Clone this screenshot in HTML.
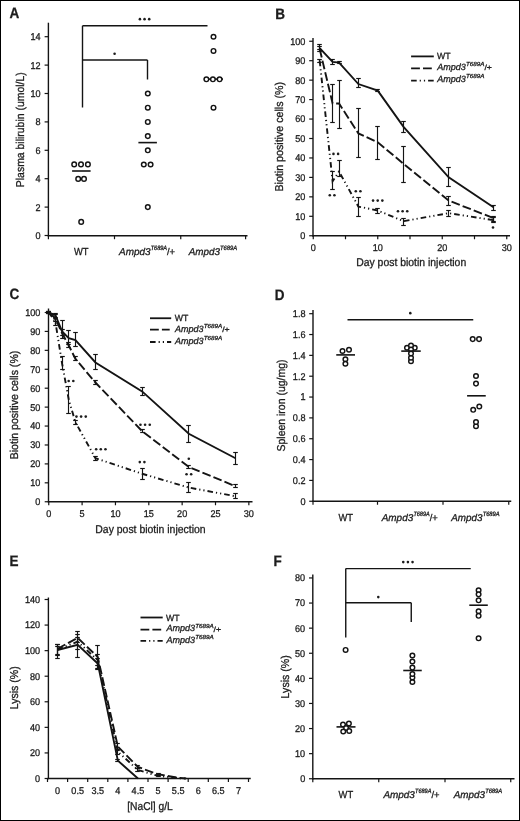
<!DOCTYPE html>
<html><head><meta charset="utf-8"><style>
html,body{margin:0;padding:0;background:#fff;}
svg{display:block;font-family:"Liberation Sans", sans-serif;will-change:transform;}
</style></head><body>
<svg width="520" height="821" viewBox="0 0 520 821" text-rendering="geometricPrecision">
<rect x="0" y="0" width="520" height="821" fill="#fff"/>
<rect x="0.5" y="0.5" width="519" height="820" fill="none" stroke="#000" stroke-width="1"/>
<text transform="translate(9.6,18.4) scale(0.9,1)" x="0" y="0" font-size="15" font-weight="bold" fill="#1c1c1c" stroke="#1c1c1c" stroke-width="0.3">A</text>
<line x1="48.4" y1="22.7" x2="48.4" y2="236.3" stroke="#141414" stroke-width="1.4" stroke-linecap="butt"/>
<line x1="44.6" y1="235.5" x2="48.4" y2="235.5" stroke="#141414" stroke-width="1.2" stroke-linecap="butt"/>
<text transform="translate(40.6,238.9) scale(0.93,1)" x="0" y="0" font-size="9.8" text-anchor="end" fill="#1c1c1c" stroke="#1c1c1c" stroke-width="0.3">0</text>
<line x1="44.6" y1="207.1" x2="48.4" y2="207.1" stroke="#141414" stroke-width="1.2" stroke-linecap="butt"/>
<text transform="translate(40.6,210.5) scale(0.93,1)" x="0" y="0" font-size="9.8" text-anchor="end" fill="#1c1c1c" stroke="#1c1c1c" stroke-width="0.3">2</text>
<line x1="44.6" y1="178.7" x2="48.4" y2="178.7" stroke="#141414" stroke-width="1.2" stroke-linecap="butt"/>
<text transform="translate(40.6,182.1) scale(0.93,1)" x="0" y="0" font-size="9.8" text-anchor="end" fill="#1c1c1c" stroke="#1c1c1c" stroke-width="0.3">4</text>
<line x1="44.6" y1="150.3" x2="48.4" y2="150.3" stroke="#141414" stroke-width="1.2" stroke-linecap="butt"/>
<text transform="translate(40.6,153.7) scale(0.93,1)" x="0" y="0" font-size="9.8" text-anchor="end" fill="#1c1c1c" stroke="#1c1c1c" stroke-width="0.3">6</text>
<line x1="44.6" y1="121.9" x2="48.4" y2="121.9" stroke="#141414" stroke-width="1.2" stroke-linecap="butt"/>
<text transform="translate(40.6,125.3) scale(0.93,1)" x="0" y="0" font-size="9.8" text-anchor="end" fill="#1c1c1c" stroke="#1c1c1c" stroke-width="0.3">8</text>
<line x1="44.6" y1="93.5" x2="48.4" y2="93.5" stroke="#141414" stroke-width="1.2" stroke-linecap="butt"/>
<text transform="translate(40.6,96.9) scale(0.93,1)" x="0" y="0" font-size="9.8" text-anchor="end" fill="#1c1c1c" stroke="#1c1c1c" stroke-width="0.3">10</text>
<line x1="44.6" y1="65.1" x2="48.4" y2="65.1" stroke="#141414" stroke-width="1.2" stroke-linecap="butt"/>
<text transform="translate(40.6,68.5) scale(0.93,1)" x="0" y="0" font-size="9.8" text-anchor="end" fill="#1c1c1c" stroke="#1c1c1c" stroke-width="0.3">12</text>
<line x1="44.6" y1="36.7" x2="48.4" y2="36.7" stroke="#141414" stroke-width="1.2" stroke-linecap="butt"/>
<text transform="translate(40.6,40.1) scale(0.93,1)" x="0" y="0" font-size="9.8" text-anchor="end" fill="#1c1c1c" stroke="#1c1c1c" stroke-width="0.3">14</text>
<line x1="47.7" y1="235.7" x2="247.5" y2="235.7" stroke="#141414" stroke-width="1.4" stroke-linecap="butt"/>
<line x1="48.4" y1="235.7" x2="48.4" y2="239.2" stroke="#141414" stroke-width="1.2" stroke-linecap="butt"/>
<line x1="114.5" y1="235.7" x2="114.5" y2="239.2" stroke="#141414" stroke-width="1.2" stroke-linecap="butt"/>
<line x1="180.75" y1="235.7" x2="180.75" y2="239.2" stroke="#141414" stroke-width="1.2" stroke-linecap="butt"/>
<line x1="245.6" y1="235.7" x2="245.6" y2="239.2" stroke="#141414" stroke-width="1.2" stroke-linecap="butt"/>
<text transform="translate(24.1,129.7) rotate(-90)" x="0" y="0" font-size="11.4" text-anchor="middle" textLength="115" lengthAdjust="spacingAndGlyphs" fill="#1c1c1c" stroke="#1c1c1c" stroke-width="0.3">Plasma bilirubin (umol/L)</text>
<text x="81.25" y="254.5" font-size="10.2" text-anchor="middle" textLength="14.6" lengthAdjust="spacingAndGlyphs" fill="#1c1c1c" stroke="#1c1c1c" stroke-width="0.3">WT</text>
<text x="119" y="254.5" font-size="9.8" font-style="italic" textLength="31.5" lengthAdjust="spacingAndGlyphs" fill="#1c1c1c" stroke="#1c1c1c" stroke-width="0.3">Ampd3</text>
<text x="150.7" y="250" font-size="6.3" font-style="italic" textLength="16.3" lengthAdjust="spacingAndGlyphs" fill="#1c1c1c" stroke="#1c1c1c" stroke-width="0.3">T689A</text>
<text x="167" y="254.5" font-size="9.8" textLength="8.1" lengthAdjust="spacingAndGlyphs" fill="#1c1c1c" stroke="#1c1c1c" stroke-width="0.3">/+</text>
<text x="188.7" y="254.5" font-size="9.8" font-style="italic" textLength="31.2" lengthAdjust="spacingAndGlyphs" fill="#1c1c1c" stroke="#1c1c1c" stroke-width="0.3">Ampd3</text>
<text x="220.1" y="250" font-size="6.3" font-style="italic" textLength="17" lengthAdjust="spacingAndGlyphs" fill="#1c1c1c" stroke="#1c1c1c" stroke-width="0.3">T689A</text>
<line x1="82.5" y1="25.75" x2="82.5" y2="107.5" stroke="#141414" stroke-width="1.4" stroke-linecap="butt"/>
<line x1="82.5" y1="25.75" x2="207.5" y2="25.75" stroke="#141414" stroke-width="1.4" stroke-linecap="butt"/>
<line x1="82.5" y1="60" x2="147.5" y2="60" stroke="#141414" stroke-width="1.4" stroke-linecap="butt"/>
<line x1="147.5" y1="60" x2="147.5" y2="79.5" stroke="#141414" stroke-width="1.4" stroke-linecap="butt"/>
<circle cx="139.9" cy="19.15" r="1.3" fill="#1c1c1c"/>
<circle cx="144.55" cy="19.15" r="1.3" fill="#1c1c1c"/>
<circle cx="149.2" cy="19.15" r="1.3" fill="#1c1c1c"/>
<circle cx="114.6" cy="53.8" r="1.3" fill="#1c1c1c"/>
<line x1="72.1" y1="171" x2="90.6" y2="171" stroke="#141414" stroke-width="1.6" stroke-linecap="butt"/>
<circle cx="74.2" cy="164.4" r="2.3" fill="#fff" stroke="#141414" stroke-width="1.45"/>
<circle cx="81" cy="164.4" r="2.3" fill="#fff" stroke="#141414" stroke-width="1.45"/>
<circle cx="87.9" cy="164.4" r="2.3" fill="#fff" stroke="#141414" stroke-width="1.45"/>
<circle cx="78.2" cy="178.9" r="2.3" fill="#fff" stroke="#141414" stroke-width="1.45"/>
<circle cx="84" cy="178.9" r="2.3" fill="#fff" stroke="#141414" stroke-width="1.45"/>
<circle cx="81.2" cy="221.9" r="2.3" fill="#fff" stroke="#141414" stroke-width="1.45"/>
<line x1="138.4" y1="142.6" x2="156.9" y2="142.6" stroke="#141414" stroke-width="1.6" stroke-linecap="butt"/>
<circle cx="147.8" cy="93.5" r="2.3" fill="#fff" stroke="#141414" stroke-width="1.45"/>
<circle cx="147.8" cy="107.7" r="2.3" fill="#fff" stroke="#141414" stroke-width="1.45"/>
<circle cx="147.8" cy="121.9" r="2.3" fill="#fff" stroke="#141414" stroke-width="1.45"/>
<circle cx="147.8" cy="136.1" r="2.3" fill="#fff" stroke="#141414" stroke-width="1.45"/>
<circle cx="147.8" cy="150.3" r="2.3" fill="#fff" stroke="#141414" stroke-width="1.45"/>
<circle cx="143.8" cy="164.5" r="2.3" fill="#fff" stroke="#141414" stroke-width="1.45"/>
<circle cx="150.6" cy="164.5" r="2.3" fill="#fff" stroke="#141414" stroke-width="1.45"/>
<circle cx="147.8" cy="207.1" r="2.3" fill="#fff" stroke="#141414" stroke-width="1.45"/>
<line x1="203.8" y1="79.1" x2="223" y2="79.1" stroke="#141414" stroke-width="1.6" stroke-linecap="butt"/>
<circle cx="213.5" cy="36.7" r="2.3" fill="#fff" stroke="#141414" stroke-width="1.45"/>
<circle cx="213.5" cy="50.9" r="2.3" fill="#fff" stroke="#141414" stroke-width="1.45"/>
<circle cx="206.4" cy="79.3" r="2.3" fill="#fff" stroke="#141414" stroke-width="1.45"/>
<circle cx="212.9" cy="79.3" r="2.3" fill="#fff" stroke="#141414" stroke-width="1.45"/>
<circle cx="219.6" cy="79.3" r="2.3" fill="#fff" stroke="#141414" stroke-width="1.45"/>
<circle cx="213.5" cy="107.7" r="2.3" fill="#fff" stroke="#141414" stroke-width="1.45"/>
<text transform="translate(275.3,18.8) scale(0.9,1)" x="0" y="0" font-size="15" font-weight="bold" fill="#1c1c1c" stroke="#1c1c1c" stroke-width="0.3">B</text>
<line x1="313" y1="38" x2="313" y2="236.45" stroke="#141414" stroke-width="1.4" stroke-linecap="butt"/>
<line x1="309.2" y1="235.75" x2="313" y2="235.75" stroke="#141414" stroke-width="1.2" stroke-linecap="butt"/>
<text transform="translate(305.4,239.15) scale(0.93,1)" x="0" y="0" font-size="9.8" text-anchor="end" fill="#1c1c1c" stroke="#1c1c1c" stroke-width="0.3">0</text>
<line x1="309.2" y1="216.3" x2="313" y2="216.3" stroke="#141414" stroke-width="1.2" stroke-linecap="butt"/>
<text transform="translate(305.4,219.7) scale(0.93,1)" x="0" y="0" font-size="9.8" text-anchor="end" fill="#1c1c1c" stroke="#1c1c1c" stroke-width="0.3">10</text>
<line x1="309.2" y1="196.85" x2="313" y2="196.85" stroke="#141414" stroke-width="1.2" stroke-linecap="butt"/>
<text transform="translate(305.4,200.25) scale(0.93,1)" x="0" y="0" font-size="9.8" text-anchor="end" fill="#1c1c1c" stroke="#1c1c1c" stroke-width="0.3">20</text>
<line x1="309.2" y1="177.4" x2="313" y2="177.4" stroke="#141414" stroke-width="1.2" stroke-linecap="butt"/>
<text transform="translate(305.4,180.8) scale(0.93,1)" x="0" y="0" font-size="9.8" text-anchor="end" fill="#1c1c1c" stroke="#1c1c1c" stroke-width="0.3">30</text>
<line x1="309.2" y1="157.95" x2="313" y2="157.95" stroke="#141414" stroke-width="1.2" stroke-linecap="butt"/>
<text transform="translate(305.4,161.35) scale(0.93,1)" x="0" y="0" font-size="9.8" text-anchor="end" fill="#1c1c1c" stroke="#1c1c1c" stroke-width="0.3">40</text>
<line x1="309.2" y1="138.5" x2="313" y2="138.5" stroke="#141414" stroke-width="1.2" stroke-linecap="butt"/>
<text transform="translate(305.4,141.9) scale(0.93,1)" x="0" y="0" font-size="9.8" text-anchor="end" fill="#1c1c1c" stroke="#1c1c1c" stroke-width="0.3">50</text>
<line x1="309.2" y1="119.05" x2="313" y2="119.05" stroke="#141414" stroke-width="1.2" stroke-linecap="butt"/>
<text transform="translate(305.4,122.45) scale(0.93,1)" x="0" y="0" font-size="9.8" text-anchor="end" fill="#1c1c1c" stroke="#1c1c1c" stroke-width="0.3">60</text>
<line x1="309.2" y1="99.6" x2="313" y2="99.6" stroke="#141414" stroke-width="1.2" stroke-linecap="butt"/>
<text transform="translate(305.4,103) scale(0.93,1)" x="0" y="0" font-size="9.8" text-anchor="end" fill="#1c1c1c" stroke="#1c1c1c" stroke-width="0.3">70</text>
<line x1="309.2" y1="80.15" x2="313" y2="80.15" stroke="#141414" stroke-width="1.2" stroke-linecap="butt"/>
<text transform="translate(305.4,83.55) scale(0.93,1)" x="0" y="0" font-size="9.8" text-anchor="end" fill="#1c1c1c" stroke="#1c1c1c" stroke-width="0.3">80</text>
<line x1="309.2" y1="60.7" x2="313" y2="60.7" stroke="#141414" stroke-width="1.2" stroke-linecap="butt"/>
<text transform="translate(305.4,64.1) scale(0.93,1)" x="0" y="0" font-size="9.8" text-anchor="end" fill="#1c1c1c" stroke="#1c1c1c" stroke-width="0.3">90</text>
<line x1="309.2" y1="41.25" x2="313" y2="41.25" stroke="#141414" stroke-width="1.2" stroke-linecap="butt"/>
<text transform="translate(305.4,44.65) scale(0.93,1)" x="0" y="0" font-size="9.8" text-anchor="end" fill="#1c1c1c" stroke="#1c1c1c" stroke-width="0.3">100</text>
<line x1="312.3" y1="235.75" x2="510" y2="235.75" stroke="#141414" stroke-width="1.4" stroke-linecap="butt"/>
<line x1="313.25" y1="235.75" x2="313.25" y2="239.25" stroke="#141414" stroke-width="1.2" stroke-linecap="butt"/>
<line x1="345.5" y1="235.75" x2="345.5" y2="239.25" stroke="#141414" stroke-width="1.2" stroke-linecap="butt"/>
<line x1="377.75" y1="235.75" x2="377.75" y2="239.25" stroke="#141414" stroke-width="1.2" stroke-linecap="butt"/>
<line x1="410" y1="235.75" x2="410" y2="239.25" stroke="#141414" stroke-width="1.2" stroke-linecap="butt"/>
<line x1="442.25" y1="235.75" x2="442.25" y2="239.25" stroke="#141414" stroke-width="1.2" stroke-linecap="butt"/>
<line x1="474.5" y1="235.75" x2="474.5" y2="239.25" stroke="#141414" stroke-width="1.2" stroke-linecap="butt"/>
<line x1="506.75" y1="235.75" x2="506.75" y2="239.25" stroke="#141414" stroke-width="1.2" stroke-linecap="butt"/>
<text transform="translate(313.25,250.6) scale(0.93,1)" x="0" y="0" font-size="9.8" text-anchor="middle" fill="#1c1c1c" stroke="#1c1c1c" stroke-width="0.3">0</text>
<text transform="translate(377.75,250.6) scale(0.93,1)" x="0" y="0" font-size="9.8" text-anchor="middle" fill="#1c1c1c" stroke="#1c1c1c" stroke-width="0.3">10</text>
<text transform="translate(442.25,250.6) scale(0.93,1)" x="0" y="0" font-size="9.8" text-anchor="middle" fill="#1c1c1c" stroke="#1c1c1c" stroke-width="0.3">20</text>
<text transform="translate(506.75,250.6) scale(0.93,1)" x="0" y="0" font-size="9.8" text-anchor="middle" fill="#1c1c1c" stroke="#1c1c1c" stroke-width="0.3">30</text>
<text x="356.2" y="266.3" font-size="11.4" textLength="110" lengthAdjust="spacingAndGlyphs" fill="#1c1c1c" stroke="#1c1c1c" stroke-width="0.3">Day post biotin injection</text>
<text transform="translate(283.3,136.75) rotate(-90)" x="0" y="0" font-size="11.4" text-anchor="middle" textLength="109.7" lengthAdjust="spacingAndGlyphs" fill="#1c1c1c" stroke="#1c1c1c" stroke-width="0.3">Biotin positive cells (%)</text>
<line x1="411.1" y1="56.4" x2="433.8" y2="56.4" stroke="#141414" stroke-width="1.8" stroke-linecap="butt"/>
<line x1="411.1" y1="68.4" x2="432.3" y2="68.4" stroke="#141414" stroke-width="1.8" stroke-linecap="butt" stroke-dasharray="8.8 3.1"/>
<line x1="411.1" y1="80.6" x2="433.8" y2="80.6" stroke="#141414" stroke-width="1.8" stroke-linecap="butt" stroke-dasharray="5.6 3 1.2 3 1.2 3"/>
<text x="436.9" y="59.1" font-size="9" textLength="13.6" lengthAdjust="spacingAndGlyphs" fill="#1c1c1c" stroke="#1c1c1c" stroke-width="0.3">WT</text>
<text x="437.2" y="69.5" font-size="9" font-style="italic" textLength="28.6" lengthAdjust="spacingAndGlyphs" fill="#1c1c1c" stroke="#1c1c1c" stroke-width="0.3">Ampd3</text>
<text x="466" y="65.6" font-size="5.8" font-style="italic" textLength="18.4" lengthAdjust="spacingAndGlyphs" fill="#1c1c1c" stroke="#1c1c1c" stroke-width="0.3">T689A</text>
<text x="484.4" y="69.9" font-size="7.5" textLength="7.5" lengthAdjust="spacingAndGlyphs" fill="#1c1c1c" stroke="#1c1c1c" stroke-width="0.3">/+</text>
<text x="437.2" y="81.5" font-size="9" font-style="italic" textLength="28.6" lengthAdjust="spacingAndGlyphs" fill="#1c1c1c" stroke="#1c1c1c" stroke-width="0.3">Ampd3</text>
<text x="466" y="77.6" font-size="5.8" font-style="italic" textLength="18.4" lengthAdjust="spacingAndGlyphs" fill="#1c1c1c" stroke="#1c1c1c" stroke-width="0.3">T689A</text>
<polyline points="319.7,48.06 332.6,61.87 339.05,62.64 358.4,84.04 377.75,90.65 403.55,126.83 448.7,177.4 493.85,207.55" fill="none" stroke="#141414" stroke-width="1.9" stroke-linejoin="miter"/>
<line x1="319.5" y1="49.5" x2="319.5" y2="44.5" stroke="#141414" stroke-width="1.15" stroke-linecap="butt"/>
<line x1="317.2" y1="49.5" x2="321.8" y2="49.5" stroke="#141414" stroke-width="1.15" stroke-linecap="butt"/>
<line x1="317.2" y1="44.5" x2="321.8" y2="44.5" stroke="#141414" stroke-width="1.15" stroke-linecap="butt"/>
<line x1="332.5" y1="64.5" x2="332.5" y2="59.5" stroke="#141414" stroke-width="1.15" stroke-linecap="butt"/>
<line x1="330.2" y1="64.5" x2="334.8" y2="64.5" stroke="#141414" stroke-width="1.15" stroke-linecap="butt"/>
<line x1="330.2" y1="59.5" x2="334.8" y2="59.5" stroke="#141414" stroke-width="1.15" stroke-linecap="butt"/>
<line x1="339.5" y1="63.5" x2="339.5" y2="61.5" stroke="#141414" stroke-width="1.15" stroke-linecap="butt"/>
<line x1="337.2" y1="63.5" x2="341.8" y2="63.5" stroke="#141414" stroke-width="1.15" stroke-linecap="butt"/>
<line x1="337.2" y1="61.5" x2="341.8" y2="61.5" stroke="#141414" stroke-width="1.15" stroke-linecap="butt"/>
<line x1="358.5" y1="87.5" x2="358.5" y2="78.5" stroke="#141414" stroke-width="1.15" stroke-linecap="butt"/>
<line x1="356.2" y1="87.5" x2="360.8" y2="87.5" stroke="#141414" stroke-width="1.15" stroke-linecap="butt"/>
<line x1="356.2" y1="78.5" x2="360.8" y2="78.5" stroke="#141414" stroke-width="1.15" stroke-linecap="butt"/>
<line x1="377.5" y1="91.5" x2="377.5" y2="89.5" stroke="#141414" stroke-width="1.15" stroke-linecap="butt"/>
<line x1="375.2" y1="91.5" x2="379.8" y2="91.5" stroke="#141414" stroke-width="1.15" stroke-linecap="butt"/>
<line x1="375.2" y1="89.5" x2="379.8" y2="89.5" stroke="#141414" stroke-width="1.15" stroke-linecap="butt"/>
<line x1="403.5" y1="132.5" x2="403.5" y2="121.5" stroke="#141414" stroke-width="1.15" stroke-linecap="butt"/>
<line x1="401.2" y1="132.5" x2="405.8" y2="132.5" stroke="#141414" stroke-width="1.15" stroke-linecap="butt"/>
<line x1="401.2" y1="121.5" x2="405.8" y2="121.5" stroke="#141414" stroke-width="1.15" stroke-linecap="butt"/>
<line x1="448.5" y1="186.5" x2="448.5" y2="167.5" stroke="#141414" stroke-width="1.15" stroke-linecap="butt"/>
<line x1="446.2" y1="186.5" x2="450.8" y2="186.5" stroke="#141414" stroke-width="1.15" stroke-linecap="butt"/>
<line x1="446.2" y1="167.5" x2="450.8" y2="167.5" stroke="#141414" stroke-width="1.15" stroke-linecap="butt"/>
<line x1="493.5" y1="210.5" x2="493.5" y2="205.5" stroke="#141414" stroke-width="1.15" stroke-linecap="butt"/>
<line x1="491.2" y1="210.5" x2="495.8" y2="210.5" stroke="#141414" stroke-width="1.15" stroke-linecap="butt"/>
<line x1="491.2" y1="205.5" x2="495.8" y2="205.5" stroke="#141414" stroke-width="1.15" stroke-linecap="butt"/>
<polyline points="319.7,49.03 332.6,103.49 339.05,103.49 358.4,133.44 377.75,142.39 403.55,163.78 448.7,200.55 493.85,218.25" fill="none" stroke="#141414" stroke-width="1.9" stroke-linejoin="miter" stroke-dasharray="8.8 3.1"/>
<line x1="319.5" y1="51.5" x2="319.5" y2="46.5" stroke="#141414" stroke-width="1.15" stroke-linecap="butt"/>
<line x1="317.2" y1="51.5" x2="321.8" y2="51.5" stroke="#141414" stroke-width="1.15" stroke-linecap="butt"/>
<line x1="317.2" y1="46.5" x2="321.8" y2="46.5" stroke="#141414" stroke-width="1.15" stroke-linecap="butt"/>
<line x1="332.5" y1="122.5" x2="332.5" y2="84.5" stroke="#141414" stroke-width="1.15" stroke-linecap="butt"/>
<line x1="330.2" y1="122.5" x2="334.8" y2="122.5" stroke="#141414" stroke-width="1.15" stroke-linecap="butt"/>
<line x1="330.2" y1="84.5" x2="334.8" y2="84.5" stroke="#141414" stroke-width="1.15" stroke-linecap="butt"/>
<line x1="339.5" y1="128.5" x2="339.5" y2="80.5" stroke="#141414" stroke-width="1.15" stroke-linecap="butt"/>
<line x1="337.2" y1="128.5" x2="341.8" y2="128.5" stroke="#141414" stroke-width="1.15" stroke-linecap="butt"/>
<line x1="337.2" y1="80.5" x2="341.8" y2="80.5" stroke="#141414" stroke-width="1.15" stroke-linecap="butt"/>
<line x1="358.5" y1="157.5" x2="358.5" y2="108.5" stroke="#141414" stroke-width="1.15" stroke-linecap="butt"/>
<line x1="356.2" y1="157.5" x2="360.8" y2="157.5" stroke="#141414" stroke-width="1.15" stroke-linecap="butt"/>
<line x1="356.2" y1="108.5" x2="360.8" y2="108.5" stroke="#141414" stroke-width="1.15" stroke-linecap="butt"/>
<line x1="377.5" y1="159.5" x2="377.5" y2="126.5" stroke="#141414" stroke-width="1.15" stroke-linecap="butt"/>
<line x1="375.2" y1="159.5" x2="379.8" y2="159.5" stroke="#141414" stroke-width="1.15" stroke-linecap="butt"/>
<line x1="375.2" y1="126.5" x2="379.8" y2="126.5" stroke="#141414" stroke-width="1.15" stroke-linecap="butt"/>
<line x1="403.5" y1="182.5" x2="403.5" y2="146.5" stroke="#141414" stroke-width="1.15" stroke-linecap="butt"/>
<line x1="401.2" y1="182.5" x2="405.8" y2="182.5" stroke="#141414" stroke-width="1.15" stroke-linecap="butt"/>
<line x1="401.2" y1="146.5" x2="405.8" y2="146.5" stroke="#141414" stroke-width="1.15" stroke-linecap="butt"/>
<line x1="448.5" y1="205.5" x2="448.5" y2="196.5" stroke="#141414" stroke-width="1.15" stroke-linecap="butt"/>
<line x1="446.2" y1="205.5" x2="450.8" y2="205.5" stroke="#141414" stroke-width="1.15" stroke-linecap="butt"/>
<line x1="446.2" y1="196.5" x2="450.8" y2="196.5" stroke="#141414" stroke-width="1.15" stroke-linecap="butt"/>
<line x1="493.5" y1="221.5" x2="493.5" y2="216.5" stroke="#141414" stroke-width="1.15" stroke-linecap="butt"/>
<line x1="491.2" y1="221.5" x2="495.8" y2="221.5" stroke="#141414" stroke-width="1.15" stroke-linecap="butt"/>
<line x1="491.2" y1="216.5" x2="495.8" y2="216.5" stroke="#141414" stroke-width="1.15" stroke-linecap="butt"/>
<polyline points="319.7,60.7 332.6,181.29 339.05,171.56 358.4,206.57 377.75,210.47 403.55,221.16 448.7,213.19 493.85,220.19" fill="none" stroke="#141414" stroke-width="1.9" stroke-linejoin="miter" stroke-dasharray="5.6 3 1.2 3 1.2 3"/>
<line x1="319.5" y1="62.5" x2="319.5" y2="59.5" stroke="#141414" stroke-width="1.15" stroke-linecap="butt"/>
<line x1="317.2" y1="62.5" x2="321.8" y2="62.5" stroke="#141414" stroke-width="1.15" stroke-linecap="butt"/>
<line x1="317.2" y1="59.5" x2="321.8" y2="59.5" stroke="#141414" stroke-width="1.15" stroke-linecap="butt"/>
<line x1="332.5" y1="189.5" x2="332.5" y2="171.5" stroke="#141414" stroke-width="1.15" stroke-linecap="butt"/>
<line x1="330.2" y1="189.5" x2="334.8" y2="189.5" stroke="#141414" stroke-width="1.15" stroke-linecap="butt"/>
<line x1="330.2" y1="171.5" x2="334.8" y2="171.5" stroke="#141414" stroke-width="1.15" stroke-linecap="butt"/>
<line x1="339.5" y1="176.5" x2="339.5" y2="160.5" stroke="#141414" stroke-width="1.15" stroke-linecap="butt"/>
<line x1="337.2" y1="176.5" x2="341.8" y2="176.5" stroke="#141414" stroke-width="1.15" stroke-linecap="butt"/>
<line x1="337.2" y1="160.5" x2="341.8" y2="160.5" stroke="#141414" stroke-width="1.15" stroke-linecap="butt"/>
<line x1="358.5" y1="216.5" x2="358.5" y2="197.5" stroke="#141414" stroke-width="1.15" stroke-linecap="butt"/>
<line x1="356.2" y1="216.5" x2="360.8" y2="216.5" stroke="#141414" stroke-width="1.15" stroke-linecap="butt"/>
<line x1="356.2" y1="197.5" x2="360.8" y2="197.5" stroke="#141414" stroke-width="1.15" stroke-linecap="butt"/>
<line x1="377.5" y1="213.5" x2="377.5" y2="208.5" stroke="#141414" stroke-width="1.15" stroke-linecap="butt"/>
<line x1="375.2" y1="213.5" x2="379.8" y2="213.5" stroke="#141414" stroke-width="1.15" stroke-linecap="butt"/>
<line x1="375.2" y1="208.5" x2="379.8" y2="208.5" stroke="#141414" stroke-width="1.15" stroke-linecap="butt"/>
<line x1="403.5" y1="225.5" x2="403.5" y2="218.5" stroke="#141414" stroke-width="1.15" stroke-linecap="butt"/>
<line x1="401.2" y1="225.5" x2="405.8" y2="225.5" stroke="#141414" stroke-width="1.15" stroke-linecap="butt"/>
<line x1="401.2" y1="218.5" x2="405.8" y2="218.5" stroke="#141414" stroke-width="1.15" stroke-linecap="butt"/>
<line x1="448.5" y1="216.5" x2="448.5" y2="210.5" stroke="#141414" stroke-width="1.15" stroke-linecap="butt"/>
<line x1="446.2" y1="216.5" x2="450.8" y2="216.5" stroke="#141414" stroke-width="1.15" stroke-linecap="butt"/>
<line x1="446.2" y1="210.5" x2="450.8" y2="210.5" stroke="#141414" stroke-width="1.15" stroke-linecap="butt"/>
<line x1="493.5" y1="222.5" x2="493.5" y2="217.5" stroke="#141414" stroke-width="1.15" stroke-linecap="butt"/>
<line x1="491.2" y1="222.5" x2="495.8" y2="222.5" stroke="#141414" stroke-width="1.15" stroke-linecap="butt"/>
<line x1="491.2" y1="217.5" x2="495.8" y2="217.5" stroke="#141414" stroke-width="1.15" stroke-linecap="butt"/>
<circle cx="333.48" cy="153.9" r="1.3" fill="#1c1c1c"/>
<circle cx="338.12" cy="153.9" r="1.3" fill="#1c1c1c"/>
<circle cx="329.78" cy="195.2" r="1.3" fill="#1c1c1c"/>
<circle cx="334.43" cy="195.2" r="1.3" fill="#1c1c1c"/>
<circle cx="355.78" cy="191.2" r="1.3" fill="#1c1c1c"/>
<circle cx="360.43" cy="191.2" r="1.3" fill="#1c1c1c"/>
<circle cx="373.05" cy="200.6" r="1.3" fill="#1c1c1c"/>
<circle cx="377.7" cy="200.6" r="1.3" fill="#1c1c1c"/>
<circle cx="382.35" cy="200.6" r="1.3" fill="#1c1c1c"/>
<circle cx="397.95" cy="211.3" r="1.3" fill="#1c1c1c"/>
<circle cx="402.6" cy="211.3" r="1.3" fill="#1c1c1c"/>
<circle cx="407.25" cy="211.3" r="1.3" fill="#1c1c1c"/>
<circle cx="493" cy="227.5" r="1.3" fill="#1c1c1c"/>
<text transform="translate(9.5,299.3) scale(0.9,1)" x="0" y="0" font-size="15" font-weight="bold" fill="#1c1c1c" stroke="#1c1c1c" stroke-width="0.3">C</text>
<line x1="48.5" y1="308.5" x2="48.5" y2="502.45" stroke="#141414" stroke-width="1.4" stroke-linecap="butt"/>
<line x1="44.7" y1="501.75" x2="48.5" y2="501.75" stroke="#141414" stroke-width="1.2" stroke-linecap="butt"/>
<text transform="translate(40.4,505.15) scale(0.93,1)" x="0" y="0" font-size="9.8" text-anchor="end" fill="#1c1c1c" stroke="#1c1c1c" stroke-width="0.3">0</text>
<line x1="44.7" y1="482.82" x2="48.5" y2="482.82" stroke="#141414" stroke-width="1.2" stroke-linecap="butt"/>
<text transform="translate(40.4,486.22) scale(0.93,1)" x="0" y="0" font-size="9.8" text-anchor="end" fill="#1c1c1c" stroke="#1c1c1c" stroke-width="0.3">10</text>
<line x1="44.7" y1="463.9" x2="48.5" y2="463.9" stroke="#141414" stroke-width="1.2" stroke-linecap="butt"/>
<text transform="translate(40.4,467.3) scale(0.93,1)" x="0" y="0" font-size="9.8" text-anchor="end" fill="#1c1c1c" stroke="#1c1c1c" stroke-width="0.3">20</text>
<line x1="44.7" y1="444.98" x2="48.5" y2="444.98" stroke="#141414" stroke-width="1.2" stroke-linecap="butt"/>
<text transform="translate(40.4,448.38) scale(0.93,1)" x="0" y="0" font-size="9.8" text-anchor="end" fill="#1c1c1c" stroke="#1c1c1c" stroke-width="0.3">30</text>
<line x1="44.7" y1="426.05" x2="48.5" y2="426.05" stroke="#141414" stroke-width="1.2" stroke-linecap="butt"/>
<text transform="translate(40.4,429.45) scale(0.93,1)" x="0" y="0" font-size="9.8" text-anchor="end" fill="#1c1c1c" stroke="#1c1c1c" stroke-width="0.3">40</text>
<line x1="44.7" y1="407.12" x2="48.5" y2="407.12" stroke="#141414" stroke-width="1.2" stroke-linecap="butt"/>
<text transform="translate(40.4,410.52) scale(0.93,1)" x="0" y="0" font-size="9.8" text-anchor="end" fill="#1c1c1c" stroke="#1c1c1c" stroke-width="0.3">50</text>
<line x1="44.7" y1="388.2" x2="48.5" y2="388.2" stroke="#141414" stroke-width="1.2" stroke-linecap="butt"/>
<text transform="translate(40.4,391.6) scale(0.93,1)" x="0" y="0" font-size="9.8" text-anchor="end" fill="#1c1c1c" stroke="#1c1c1c" stroke-width="0.3">60</text>
<line x1="44.7" y1="369.27" x2="48.5" y2="369.27" stroke="#141414" stroke-width="1.2" stroke-linecap="butt"/>
<text transform="translate(40.4,372.67) scale(0.93,1)" x="0" y="0" font-size="9.8" text-anchor="end" fill="#1c1c1c" stroke="#1c1c1c" stroke-width="0.3">70</text>
<line x1="44.7" y1="350.35" x2="48.5" y2="350.35" stroke="#141414" stroke-width="1.2" stroke-linecap="butt"/>
<text transform="translate(40.4,353.75) scale(0.93,1)" x="0" y="0" font-size="9.8" text-anchor="end" fill="#1c1c1c" stroke="#1c1c1c" stroke-width="0.3">80</text>
<line x1="44.7" y1="331.42" x2="48.5" y2="331.42" stroke="#141414" stroke-width="1.2" stroke-linecap="butt"/>
<text transform="translate(40.4,334.82) scale(0.93,1)" x="0" y="0" font-size="9.8" text-anchor="end" fill="#1c1c1c" stroke="#1c1c1c" stroke-width="0.3">90</text>
<line x1="44.7" y1="312.5" x2="48.5" y2="312.5" stroke="#141414" stroke-width="1.2" stroke-linecap="butt"/>
<text transform="translate(40.4,315.9) scale(0.93,1)" x="0" y="0" font-size="9.8" text-anchor="end" fill="#1c1c1c" stroke="#1c1c1c" stroke-width="0.3">100</text>
<line x1="47.8" y1="501.75" x2="252.5" y2="501.75" stroke="#141414" stroke-width="1.4" stroke-linecap="butt"/>
<line x1="48.75" y1="501.75" x2="48.75" y2="505.25" stroke="#141414" stroke-width="1.2" stroke-linecap="butt"/>
<line x1="82.1" y1="501.75" x2="82.1" y2="505.25" stroke="#141414" stroke-width="1.2" stroke-linecap="butt"/>
<line x1="115.45" y1="501.75" x2="115.45" y2="505.25" stroke="#141414" stroke-width="1.2" stroke-linecap="butt"/>
<line x1="148.8" y1="501.75" x2="148.8" y2="505.25" stroke="#141414" stroke-width="1.2" stroke-linecap="butt"/>
<line x1="182.15" y1="501.75" x2="182.15" y2="505.25" stroke="#141414" stroke-width="1.2" stroke-linecap="butt"/>
<line x1="215.5" y1="501.75" x2="215.5" y2="505.25" stroke="#141414" stroke-width="1.2" stroke-linecap="butt"/>
<line x1="248.85" y1="501.75" x2="248.85" y2="505.25" stroke="#141414" stroke-width="1.2" stroke-linecap="butt"/>
<text transform="translate(48.75,517.1) scale(0.93,1)" x="0" y="0" font-size="9.8" text-anchor="middle" fill="#1c1c1c" stroke="#1c1c1c" stroke-width="0.3">0</text>
<text transform="translate(82.1,517.1) scale(0.93,1)" x="0" y="0" font-size="9.8" text-anchor="middle" fill="#1c1c1c" stroke="#1c1c1c" stroke-width="0.3">5</text>
<text transform="translate(115.45,517.1) scale(0.93,1)" x="0" y="0" font-size="9.8" text-anchor="middle" fill="#1c1c1c" stroke="#1c1c1c" stroke-width="0.3">10</text>
<text transform="translate(148.8,517.1) scale(0.93,1)" x="0" y="0" font-size="9.8" text-anchor="middle" fill="#1c1c1c" stroke="#1c1c1c" stroke-width="0.3">15</text>
<text transform="translate(182.15,517.1) scale(0.93,1)" x="0" y="0" font-size="9.8" text-anchor="middle" fill="#1c1c1c" stroke="#1c1c1c" stroke-width="0.3">20</text>
<text transform="translate(215.5,517.1) scale(0.93,1)" x="0" y="0" font-size="9.8" text-anchor="middle" fill="#1c1c1c" stroke="#1c1c1c" stroke-width="0.3">25</text>
<text transform="translate(248.85,517.1) scale(0.93,1)" x="0" y="0" font-size="9.8" text-anchor="middle" fill="#1c1c1c" stroke="#1c1c1c" stroke-width="0.3">30</text>
<text x="95.3" y="532.7" font-size="11.4" textLength="110.3" lengthAdjust="spacingAndGlyphs" fill="#1c1c1c" stroke="#1c1c1c" stroke-width="0.3">Day post biotin injection</text>
<text transform="translate(18,405) rotate(-90)" x="0" y="0" font-size="11.4" text-anchor="middle" textLength="108.6" lengthAdjust="spacingAndGlyphs" fill="#1c1c1c" stroke="#1c1c1c" stroke-width="0.3">Biotin positive cells (%)</text>
<line x1="150" y1="318.25" x2="171.2" y2="318.25" stroke="#141414" stroke-width="1.8" stroke-linecap="butt"/>
<line x1="150" y1="329.6" x2="169.7" y2="329.6" stroke="#141414" stroke-width="1.8" stroke-linecap="butt" stroke-dasharray="8.8 3.1"/>
<line x1="150" y1="342" x2="171.2" y2="342" stroke="#141414" stroke-width="1.8" stroke-linecap="butt" stroke-dasharray="5.6 3 1.2 3 1.2 3"/>
<text x="174.7" y="320.6" font-size="9" textLength="13.6" lengthAdjust="spacingAndGlyphs" fill="#1c1c1c" stroke="#1c1c1c" stroke-width="0.3">WT</text>
<text x="175" y="331.5" font-size="9" font-style="italic" textLength="28.6" lengthAdjust="spacingAndGlyphs" fill="#1c1c1c" stroke="#1c1c1c" stroke-width="0.3">Ampd3</text>
<text x="203.8" y="327.6" font-size="5.8" font-style="italic" textLength="18.4" lengthAdjust="spacingAndGlyphs" fill="#1c1c1c" stroke="#1c1c1c" stroke-width="0.3">T689A</text>
<text x="222.2" y="331.9" font-size="7.5" textLength="7.5" lengthAdjust="spacingAndGlyphs" fill="#1c1c1c" stroke="#1c1c1c" stroke-width="0.3">/+</text>
<text x="175" y="343.5" font-size="9" font-style="italic" textLength="28.6" lengthAdjust="spacingAndGlyphs" fill="#1c1c1c" stroke="#1c1c1c" stroke-width="0.3">Ampd3</text>
<text x="203.8" y="339.6" font-size="5.8" font-style="italic" textLength="18.4" lengthAdjust="spacingAndGlyphs" fill="#1c1c1c" stroke="#1c1c1c" stroke-width="0.3">T689A</text>
<polyline points="48.75,312.5 55.42,315.15 62.09,331.42 68.76,338.05 75.43,340.13 95.44,362.46 142.13,391.42 188.82,433.81 235.51,458.22" fill="none" stroke="#141414" stroke-width="1.9" stroke-linejoin="miter"/>
<line x1="48.5" y1="313.5" x2="48.5" y2="311.5" stroke="#141414" stroke-width="1.15" stroke-linecap="butt"/>
<line x1="46.2" y1="313.5" x2="50.8" y2="313.5" stroke="#141414" stroke-width="1.15" stroke-linecap="butt"/>
<line x1="46.2" y1="311.5" x2="50.8" y2="311.5" stroke="#141414" stroke-width="1.15" stroke-linecap="butt"/>
<line x1="55.5" y1="317.5" x2="55.5" y2="313.5" stroke="#141414" stroke-width="1.15" stroke-linecap="butt"/>
<line x1="53.2" y1="317.5" x2="57.8" y2="317.5" stroke="#141414" stroke-width="1.15" stroke-linecap="butt"/>
<line x1="53.2" y1="313.5" x2="57.8" y2="313.5" stroke="#141414" stroke-width="1.15" stroke-linecap="butt"/>
<line x1="62.5" y1="335.5" x2="62.5" y2="320.5" stroke="#141414" stroke-width="1.15" stroke-linecap="butt"/>
<line x1="60.2" y1="335.5" x2="64.8" y2="335.5" stroke="#141414" stroke-width="1.15" stroke-linecap="butt"/>
<line x1="60.2" y1="320.5" x2="64.8" y2="320.5" stroke="#141414" stroke-width="1.15" stroke-linecap="butt"/>
<line x1="68.5" y1="344.5" x2="68.5" y2="330.5" stroke="#141414" stroke-width="1.15" stroke-linecap="butt"/>
<line x1="66.2" y1="344.5" x2="70.8" y2="344.5" stroke="#141414" stroke-width="1.15" stroke-linecap="butt"/>
<line x1="66.2" y1="330.5" x2="70.8" y2="330.5" stroke="#141414" stroke-width="1.15" stroke-linecap="butt"/>
<line x1="75.5" y1="346.5" x2="75.5" y2="332.5" stroke="#141414" stroke-width="1.15" stroke-linecap="butt"/>
<line x1="73.2" y1="346.5" x2="77.8" y2="346.5" stroke="#141414" stroke-width="1.15" stroke-linecap="butt"/>
<line x1="73.2" y1="332.5" x2="77.8" y2="332.5" stroke="#141414" stroke-width="1.15" stroke-linecap="butt"/>
<line x1="95.5" y1="369.5" x2="95.5" y2="354.5" stroke="#141414" stroke-width="1.15" stroke-linecap="butt"/>
<line x1="93.2" y1="369.5" x2="97.8" y2="369.5" stroke="#141414" stroke-width="1.15" stroke-linecap="butt"/>
<line x1="93.2" y1="354.5" x2="97.8" y2="354.5" stroke="#141414" stroke-width="1.15" stroke-linecap="butt"/>
<line x1="142.5" y1="395.5" x2="142.5" y2="387.5" stroke="#141414" stroke-width="1.15" stroke-linecap="butt"/>
<line x1="140.2" y1="395.5" x2="144.8" y2="395.5" stroke="#141414" stroke-width="1.15" stroke-linecap="butt"/>
<line x1="140.2" y1="387.5" x2="144.8" y2="387.5" stroke="#141414" stroke-width="1.15" stroke-linecap="butt"/>
<line x1="188.5" y1="442.5" x2="188.5" y2="425.5" stroke="#141414" stroke-width="1.15" stroke-linecap="butt"/>
<line x1="186.2" y1="442.5" x2="190.8" y2="442.5" stroke="#141414" stroke-width="1.15" stroke-linecap="butt"/>
<line x1="186.2" y1="425.5" x2="190.8" y2="425.5" stroke="#141414" stroke-width="1.15" stroke-linecap="butt"/>
<line x1="235.5" y1="464.5" x2="235.5" y2="452.5" stroke="#141414" stroke-width="1.15" stroke-linecap="butt"/>
<line x1="233.2" y1="464.5" x2="237.8" y2="464.5" stroke="#141414" stroke-width="1.15" stroke-linecap="butt"/>
<line x1="233.2" y1="452.5" x2="237.8" y2="452.5" stroke="#141414" stroke-width="1.15" stroke-linecap="butt"/>
<polyline points="48.75,312.5 55.42,318.18 62.09,333.32 68.76,345.43 75.43,358.87 95.44,382.52 142.13,431.16 188.82,466.93 235.51,486.23" fill="none" stroke="#141414" stroke-width="1.9" stroke-linejoin="miter" stroke-dasharray="8.8 3.1"/>
<line x1="48.5" y1="313.5" x2="48.5" y2="311.5" stroke="#141414" stroke-width="1.15" stroke-linecap="butt"/>
<line x1="46.2" y1="313.5" x2="50.8" y2="313.5" stroke="#141414" stroke-width="1.15" stroke-linecap="butt"/>
<line x1="46.2" y1="311.5" x2="50.8" y2="311.5" stroke="#141414" stroke-width="1.15" stroke-linecap="butt"/>
<line x1="55.5" y1="321.5" x2="55.5" y2="314.5" stroke="#141414" stroke-width="1.15" stroke-linecap="butt"/>
<line x1="53.2" y1="321.5" x2="57.8" y2="321.5" stroke="#141414" stroke-width="1.15" stroke-linecap="butt"/>
<line x1="53.2" y1="314.5" x2="57.8" y2="314.5" stroke="#141414" stroke-width="1.15" stroke-linecap="butt"/>
<line x1="62.5" y1="338.5" x2="62.5" y2="329.5" stroke="#141414" stroke-width="1.15" stroke-linecap="butt"/>
<line x1="60.2" y1="338.5" x2="64.8" y2="338.5" stroke="#141414" stroke-width="1.15" stroke-linecap="butt"/>
<line x1="60.2" y1="329.5" x2="64.8" y2="329.5" stroke="#141414" stroke-width="1.15" stroke-linecap="butt"/>
<line x1="68.5" y1="347.5" x2="68.5" y2="342.5" stroke="#141414" stroke-width="1.15" stroke-linecap="butt"/>
<line x1="66.2" y1="347.5" x2="70.8" y2="347.5" stroke="#141414" stroke-width="1.15" stroke-linecap="butt"/>
<line x1="66.2" y1="342.5" x2="70.8" y2="342.5" stroke="#141414" stroke-width="1.15" stroke-linecap="butt"/>
<line x1="75.5" y1="360.5" x2="75.5" y2="356.5" stroke="#141414" stroke-width="1.15" stroke-linecap="butt"/>
<line x1="73.2" y1="360.5" x2="77.8" y2="360.5" stroke="#141414" stroke-width="1.15" stroke-linecap="butt"/>
<line x1="73.2" y1="356.5" x2="77.8" y2="356.5" stroke="#141414" stroke-width="1.15" stroke-linecap="butt"/>
<line x1="95.5" y1="384.5" x2="95.5" y2="380.5" stroke="#141414" stroke-width="1.15" stroke-linecap="butt"/>
<line x1="93.2" y1="384.5" x2="97.8" y2="384.5" stroke="#141414" stroke-width="1.15" stroke-linecap="butt"/>
<line x1="93.2" y1="380.5" x2="97.8" y2="380.5" stroke="#141414" stroke-width="1.15" stroke-linecap="butt"/>
<line x1="142.5" y1="432.5" x2="142.5" y2="429.5" stroke="#141414" stroke-width="1.15" stroke-linecap="butt"/>
<line x1="140.2" y1="432.5" x2="144.8" y2="432.5" stroke="#141414" stroke-width="1.15" stroke-linecap="butt"/>
<line x1="140.2" y1="429.5" x2="144.8" y2="429.5" stroke="#141414" stroke-width="1.15" stroke-linecap="butt"/>
<line x1="188.5" y1="468.5" x2="188.5" y2="465.5" stroke="#141414" stroke-width="1.15" stroke-linecap="butt"/>
<line x1="186.2" y1="468.5" x2="190.8" y2="468.5" stroke="#141414" stroke-width="1.15" stroke-linecap="butt"/>
<line x1="186.2" y1="465.5" x2="190.8" y2="465.5" stroke="#141414" stroke-width="1.15" stroke-linecap="butt"/>
<line x1="235.5" y1="487.5" x2="235.5" y2="484.5" stroke="#141414" stroke-width="1.15" stroke-linecap="butt"/>
<line x1="233.2" y1="487.5" x2="237.8" y2="487.5" stroke="#141414" stroke-width="1.15" stroke-linecap="butt"/>
<line x1="233.2" y1="484.5" x2="237.8" y2="484.5" stroke="#141414" stroke-width="1.15" stroke-linecap="butt"/>
<polyline points="48.75,312.5 55.42,321.96 62.09,363.6 68.76,399.56 75.43,422.26 95.44,458.22 142.13,473.74 188.82,487.56 235.51,496.26" fill="none" stroke="#141414" stroke-width="1.9" stroke-linejoin="miter" stroke-dasharray="5.6 3 1.2 3 1.2 3"/>
<line x1="48.5" y1="313.5" x2="48.5" y2="311.5" stroke="#141414" stroke-width="1.15" stroke-linecap="butt"/>
<line x1="46.2" y1="313.5" x2="50.8" y2="313.5" stroke="#141414" stroke-width="1.15" stroke-linecap="butt"/>
<line x1="46.2" y1="311.5" x2="50.8" y2="311.5" stroke="#141414" stroke-width="1.15" stroke-linecap="butt"/>
<line x1="55.5" y1="325.5" x2="55.5" y2="318.5" stroke="#141414" stroke-width="1.15" stroke-linecap="butt"/>
<line x1="53.2" y1="325.5" x2="57.8" y2="325.5" stroke="#141414" stroke-width="1.15" stroke-linecap="butt"/>
<line x1="53.2" y1="318.5" x2="57.8" y2="318.5" stroke="#141414" stroke-width="1.15" stroke-linecap="butt"/>
<line x1="62.5" y1="369.5" x2="62.5" y2="356.5" stroke="#141414" stroke-width="1.15" stroke-linecap="butt"/>
<line x1="60.2" y1="369.5" x2="64.8" y2="369.5" stroke="#141414" stroke-width="1.15" stroke-linecap="butt"/>
<line x1="60.2" y1="356.5" x2="64.8" y2="356.5" stroke="#141414" stroke-width="1.15" stroke-linecap="butt"/>
<line x1="68.5" y1="413.5" x2="68.5" y2="386.5" stroke="#141414" stroke-width="1.15" stroke-linecap="butt"/>
<line x1="66.2" y1="413.5" x2="70.8" y2="413.5" stroke="#141414" stroke-width="1.15" stroke-linecap="butt"/>
<line x1="66.2" y1="386.5" x2="70.8" y2="386.5" stroke="#141414" stroke-width="1.15" stroke-linecap="butt"/>
<line x1="75.5" y1="424.5" x2="75.5" y2="420.5" stroke="#141414" stroke-width="1.15" stroke-linecap="butt"/>
<line x1="73.2" y1="424.5" x2="77.8" y2="424.5" stroke="#141414" stroke-width="1.15" stroke-linecap="butt"/>
<line x1="73.2" y1="420.5" x2="77.8" y2="420.5" stroke="#141414" stroke-width="1.15" stroke-linecap="butt"/>
<line x1="95.5" y1="460.5" x2="95.5" y2="456.5" stroke="#141414" stroke-width="1.15" stroke-linecap="butt"/>
<line x1="93.2" y1="460.5" x2="97.8" y2="460.5" stroke="#141414" stroke-width="1.15" stroke-linecap="butt"/>
<line x1="93.2" y1="456.5" x2="97.8" y2="456.5" stroke="#141414" stroke-width="1.15" stroke-linecap="butt"/>
<line x1="142.5" y1="479.5" x2="142.5" y2="468.5" stroke="#141414" stroke-width="1.15" stroke-linecap="butt"/>
<line x1="140.2" y1="479.5" x2="144.8" y2="479.5" stroke="#141414" stroke-width="1.15" stroke-linecap="butt"/>
<line x1="140.2" y1="468.5" x2="144.8" y2="468.5" stroke="#141414" stroke-width="1.15" stroke-linecap="butt"/>
<line x1="188.5" y1="492.5" x2="188.5" y2="482.5" stroke="#141414" stroke-width="1.15" stroke-linecap="butt"/>
<line x1="186.2" y1="492.5" x2="190.8" y2="492.5" stroke="#141414" stroke-width="1.15" stroke-linecap="butt"/>
<line x1="186.2" y1="482.5" x2="190.8" y2="482.5" stroke="#141414" stroke-width="1.15" stroke-linecap="butt"/>
<line x1="235.5" y1="498.5" x2="235.5" y2="493.5" stroke="#141414" stroke-width="1.15" stroke-linecap="butt"/>
<line x1="233.2" y1="498.5" x2="237.8" y2="498.5" stroke="#141414" stroke-width="1.15" stroke-linecap="butt"/>
<line x1="233.2" y1="493.5" x2="237.8" y2="493.5" stroke="#141414" stroke-width="1.15" stroke-linecap="butt"/>
<circle cx="68.67" cy="381" r="1.3" fill="#1c1c1c"/>
<circle cx="73.33" cy="381" r="1.3" fill="#1c1c1c"/>
<circle cx="76.45" cy="416.6" r="1.3" fill="#1c1c1c"/>
<circle cx="81.1" cy="416.6" r="1.3" fill="#1c1c1c"/>
<circle cx="85.75" cy="416.6" r="1.3" fill="#1c1c1c"/>
<circle cx="96.15" cy="449.2" r="1.3" fill="#1c1c1c"/>
<circle cx="100.8" cy="449.2" r="1.3" fill="#1c1c1c"/>
<circle cx="105.45" cy="449.2" r="1.3" fill="#1c1c1c"/>
<circle cx="140.45" cy="424.8" r="1.3" fill="#1c1c1c"/>
<circle cx="145.1" cy="424.8" r="1.3" fill="#1c1c1c"/>
<circle cx="149.75" cy="424.8" r="1.3" fill="#1c1c1c"/>
<circle cx="139.78" cy="462.1" r="1.3" fill="#1c1c1c"/>
<circle cx="144.43" cy="462.1" r="1.3" fill="#1c1c1c"/>
<circle cx="188.8" cy="458.7" r="1.3" fill="#1c1c1c"/>
<circle cx="186.53" cy="474.2" r="1.3" fill="#1c1c1c"/>
<circle cx="191.18" cy="474.2" r="1.3" fill="#1c1c1c"/>
<text transform="translate(274.8,299.5) scale(0.9,1)" x="0" y="0" font-size="15" font-weight="bold" fill="#1c1c1c" stroke="#1c1c1c" stroke-width="0.3">D</text>
<line x1="313" y1="309.9" x2="313" y2="501.95" stroke="#141414" stroke-width="1.4" stroke-linecap="butt"/>
<line x1="309.2" y1="501.25" x2="313" y2="501.25" stroke="#141414" stroke-width="1.2" stroke-linecap="butt"/>
<text transform="translate(305.5,504.65) scale(0.93,1)" x="0" y="0" font-size="9.8" text-anchor="end" fill="#1c1c1c" stroke="#1c1c1c" stroke-width="0.3">0</text>
<line x1="309.2" y1="480.41" x2="313" y2="480.41" stroke="#141414" stroke-width="1.2" stroke-linecap="butt"/>
<text transform="translate(305.5,483.81) scale(0.93,1)" x="0" y="0" font-size="9.8" text-anchor="end" fill="#1c1c1c" stroke="#1c1c1c" stroke-width="0.3">0.2</text>
<line x1="309.2" y1="459.57" x2="313" y2="459.57" stroke="#141414" stroke-width="1.2" stroke-linecap="butt"/>
<text transform="translate(305.5,462.97) scale(0.93,1)" x="0" y="0" font-size="9.8" text-anchor="end" fill="#1c1c1c" stroke="#1c1c1c" stroke-width="0.3">0.4</text>
<line x1="309.2" y1="438.73" x2="313" y2="438.73" stroke="#141414" stroke-width="1.2" stroke-linecap="butt"/>
<text transform="translate(305.5,442.13) scale(0.93,1)" x="0" y="0" font-size="9.8" text-anchor="end" fill="#1c1c1c" stroke="#1c1c1c" stroke-width="0.3">0.6</text>
<line x1="309.2" y1="417.89" x2="313" y2="417.89" stroke="#141414" stroke-width="1.2" stroke-linecap="butt"/>
<text transform="translate(305.5,421.29) scale(0.93,1)" x="0" y="0" font-size="9.8" text-anchor="end" fill="#1c1c1c" stroke="#1c1c1c" stroke-width="0.3">0.8</text>
<line x1="309.2" y1="397.05" x2="313" y2="397.05" stroke="#141414" stroke-width="1.2" stroke-linecap="butt"/>
<text transform="translate(305.5,400.45) scale(0.93,1)" x="0" y="0" font-size="9.8" text-anchor="end" fill="#1c1c1c" stroke="#1c1c1c" stroke-width="0.3">1</text>
<line x1="309.2" y1="376.21" x2="313" y2="376.21" stroke="#141414" stroke-width="1.2" stroke-linecap="butt"/>
<text transform="translate(305.5,379.61) scale(0.93,1)" x="0" y="0" font-size="9.8" text-anchor="end" fill="#1c1c1c" stroke="#1c1c1c" stroke-width="0.3">1.2</text>
<line x1="309.2" y1="355.37" x2="313" y2="355.37" stroke="#141414" stroke-width="1.2" stroke-linecap="butt"/>
<text transform="translate(305.5,358.77) scale(0.93,1)" x="0" y="0" font-size="9.8" text-anchor="end" fill="#1c1c1c" stroke="#1c1c1c" stroke-width="0.3">1.4</text>
<line x1="309.2" y1="334.53" x2="313" y2="334.53" stroke="#141414" stroke-width="1.2" stroke-linecap="butt"/>
<text transform="translate(305.5,337.93) scale(0.93,1)" x="0" y="0" font-size="9.8" text-anchor="end" fill="#1c1c1c" stroke="#1c1c1c" stroke-width="0.3">1.6</text>
<line x1="309.2" y1="313.69" x2="313" y2="313.69" stroke="#141414" stroke-width="1.2" stroke-linecap="butt"/>
<text transform="translate(305.5,317.09) scale(0.93,1)" x="0" y="0" font-size="9.8" text-anchor="end" fill="#1c1c1c" stroke="#1c1c1c" stroke-width="0.3">1.8</text>
<line x1="312.3" y1="501.25" x2="511.25" y2="501.25" stroke="#141414" stroke-width="1.4" stroke-linecap="butt"/>
<line x1="313" y1="501.25" x2="313" y2="504.75" stroke="#141414" stroke-width="1.2" stroke-linecap="butt"/>
<line x1="377.5" y1="501.25" x2="377.5" y2="504.75" stroke="#141414" stroke-width="1.2" stroke-linecap="butt"/>
<line x1="443" y1="501.25" x2="443" y2="504.75" stroke="#141414" stroke-width="1.2" stroke-linecap="butt"/>
<line x1="508.75" y1="501.25" x2="508.75" y2="504.75" stroke="#141414" stroke-width="1.2" stroke-linecap="butt"/>
<text transform="translate(285.3,405.5) rotate(-90)" x="0" y="0" font-size="11.4" text-anchor="middle" textLength="92" lengthAdjust="spacingAndGlyphs" fill="#1c1c1c" stroke="#1c1c1c" stroke-width="0.3">Spleen iron (ug/mg)</text>
<text x="345.7" y="520.9" font-size="10.2" text-anchor="middle" textLength="14.6" lengthAdjust="spacingAndGlyphs" fill="#1c1c1c" stroke="#1c1c1c" stroke-width="0.3">WT</text>
<text x="381.7" y="520.9" font-size="9.8" font-style="italic" textLength="31.5" lengthAdjust="spacingAndGlyphs" fill="#1c1c1c" stroke="#1c1c1c" stroke-width="0.3">Ampd3</text>
<text x="413.4" y="516.4" font-size="6.3" font-style="italic" textLength="16.3" lengthAdjust="spacingAndGlyphs" fill="#1c1c1c" stroke="#1c1c1c" stroke-width="0.3">T689A</text>
<text x="429.7" y="520.9" font-size="9.8" textLength="8.1" lengthAdjust="spacingAndGlyphs" fill="#1c1c1c" stroke="#1c1c1c" stroke-width="0.3">/+</text>
<text x="451.25" y="520.9" font-size="9.8" font-style="italic" textLength="31.2" lengthAdjust="spacingAndGlyphs" fill="#1c1c1c" stroke="#1c1c1c" stroke-width="0.3">Ampd3</text>
<text x="482.65" y="516.4" font-size="6.3" font-style="italic" textLength="17" lengthAdjust="spacingAndGlyphs" fill="#1c1c1c" stroke="#1c1c1c" stroke-width="0.3">T689A</text>
<line x1="347.5" y1="319.75" x2="473.25" y2="319.75" stroke="#141414" stroke-width="1.4" stroke-linecap="butt"/>
<circle cx="410.3" cy="313.15" r="1.3" fill="#1c1c1c"/>
<circle cx="342.5" cy="351" r="2.3" fill="#fff" stroke="#141414" stroke-width="1.45"/>
<circle cx="349" cy="349.75" r="2.3" fill="#fff" stroke="#141414" stroke-width="1.45"/>
<circle cx="345.4" cy="359.25" r="2.3" fill="#fff" stroke="#141414" stroke-width="1.45"/>
<circle cx="345.4" cy="363.75" r="2.3" fill="#fff" stroke="#141414" stroke-width="1.45"/>
<line x1="336.25" y1="354.9" x2="355" y2="354.9" stroke="#141414" stroke-width="1.6" stroke-linecap="butt"/>
<circle cx="407" cy="347.75" r="2.3" fill="#fff" stroke="#141414" stroke-width="1.45"/>
<circle cx="414.75" cy="347.75" r="2.3" fill="#fff" stroke="#141414" stroke-width="1.45"/>
<circle cx="411" cy="345.5" r="2.3" fill="#fff" stroke="#141414" stroke-width="1.45"/>
<circle cx="411" cy="349.5" r="2.3" fill="#fff" stroke="#141414" stroke-width="1.45"/>
<circle cx="411" cy="361.25" r="2.3" fill="#fff" stroke="#141414" stroke-width="1.45"/>
<circle cx="411" cy="357.75" r="2.3" fill="#fff" stroke="#141414" stroke-width="1.45"/>
<circle cx="411" cy="353.5" r="2.3" fill="#fff" stroke="#141414" stroke-width="1.45"/>
<line x1="401.25" y1="351.1" x2="420.75" y2="351.1" stroke="#141414" stroke-width="1.6" stroke-linecap="butt"/>
<line x1="467.1" y1="395.8" x2="485.75" y2="395.8" stroke="#141414" stroke-width="1.6" stroke-linecap="butt"/>
<circle cx="472.7" cy="339.1" r="2.3" fill="#fff" stroke="#141414" stroke-width="1.45"/>
<circle cx="479.05" cy="339.1" r="2.3" fill="#fff" stroke="#141414" stroke-width="1.45"/>
<circle cx="476" cy="376" r="2.3" fill="#fff" stroke="#141414" stroke-width="1.45"/>
<circle cx="476" cy="383.6" r="2.3" fill="#fff" stroke="#141414" stroke-width="1.45"/>
<circle cx="479.3" cy="406.5" r="2.3" fill="#fff" stroke="#141414" stroke-width="1.45"/>
<circle cx="473.2" cy="409.8" r="2.3" fill="#fff" stroke="#141414" stroke-width="1.45"/>
<circle cx="476" cy="426.2" r="2.3" fill="#fff" stroke="#141414" stroke-width="1.45"/>
<circle cx="476" cy="422" r="2.3" fill="#fff" stroke="#141414" stroke-width="1.45"/>
<text transform="translate(9.6,566.3) scale(0.9,1)" x="0" y="0" font-size="15" font-weight="bold" fill="#1c1c1c" stroke="#1c1c1c" stroke-width="0.3">E</text>
<line x1="48.4" y1="597.5" x2="48.4" y2="779.2" stroke="#141414" stroke-width="1.4" stroke-linecap="butt"/>
<line x1="44.6" y1="778.5" x2="48.4" y2="778.5" stroke="#141414" stroke-width="1.2" stroke-linecap="butt"/>
<text transform="translate(40.1,781.9) scale(0.93,1)" x="0" y="0" font-size="9.8" text-anchor="end" fill="#1c1c1c" stroke="#1c1c1c" stroke-width="0.3">0</text>
<line x1="44.6" y1="752.93" x2="48.4" y2="752.93" stroke="#141414" stroke-width="1.2" stroke-linecap="butt"/>
<text transform="translate(40.1,756.33) scale(0.93,1)" x="0" y="0" font-size="9.8" text-anchor="end" fill="#1c1c1c" stroke="#1c1c1c" stroke-width="0.3">20</text>
<line x1="44.6" y1="727.36" x2="48.4" y2="727.36" stroke="#141414" stroke-width="1.2" stroke-linecap="butt"/>
<text transform="translate(40.1,730.76) scale(0.93,1)" x="0" y="0" font-size="9.8" text-anchor="end" fill="#1c1c1c" stroke="#1c1c1c" stroke-width="0.3">40</text>
<line x1="44.6" y1="701.78" x2="48.4" y2="701.78" stroke="#141414" stroke-width="1.2" stroke-linecap="butt"/>
<text transform="translate(40.1,705.18) scale(0.93,1)" x="0" y="0" font-size="9.8" text-anchor="end" fill="#1c1c1c" stroke="#1c1c1c" stroke-width="0.3">60</text>
<line x1="44.6" y1="676.21" x2="48.4" y2="676.21" stroke="#141414" stroke-width="1.2" stroke-linecap="butt"/>
<text transform="translate(40.1,679.61) scale(0.93,1)" x="0" y="0" font-size="9.8" text-anchor="end" fill="#1c1c1c" stroke="#1c1c1c" stroke-width="0.3">80</text>
<line x1="44.6" y1="650.64" x2="48.4" y2="650.64" stroke="#141414" stroke-width="1.2" stroke-linecap="butt"/>
<text transform="translate(40.1,654.04) scale(0.93,1)" x="0" y="0" font-size="9.8" text-anchor="end" fill="#1c1c1c" stroke="#1c1c1c" stroke-width="0.3">100</text>
<line x1="44.6" y1="625.07" x2="48.4" y2="625.07" stroke="#141414" stroke-width="1.2" stroke-linecap="butt"/>
<text transform="translate(40.1,628.47) scale(0.93,1)" x="0" y="0" font-size="9.8" text-anchor="end" fill="#1c1c1c" stroke="#1c1c1c" stroke-width="0.3">120</text>
<line x1="44.6" y1="599.5" x2="48.4" y2="599.5" stroke="#141414" stroke-width="1.2" stroke-linecap="butt"/>
<text transform="translate(40.1,602.9) scale(0.93,1)" x="0" y="0" font-size="9.8" text-anchor="end" fill="#1c1c1c" stroke="#1c1c1c" stroke-width="0.3">140</text>
<line x1="47.7" y1="778.5" x2="250.75" y2="778.5" stroke="#141414" stroke-width="1.4" stroke-linecap="butt"/>
<line x1="47.5" y1="778.5" x2="47.5" y2="782" stroke="#141414" stroke-width="1.2" stroke-linecap="butt"/>
<line x1="67.6" y1="778.5" x2="67.6" y2="782" stroke="#141414" stroke-width="1.2" stroke-linecap="butt"/>
<line x1="87.7" y1="778.5" x2="87.7" y2="782" stroke="#141414" stroke-width="1.2" stroke-linecap="butt"/>
<line x1="107.8" y1="778.5" x2="107.8" y2="782" stroke="#141414" stroke-width="1.2" stroke-linecap="butt"/>
<line x1="127.9" y1="778.5" x2="127.9" y2="782" stroke="#141414" stroke-width="1.2" stroke-linecap="butt"/>
<line x1="148" y1="778.5" x2="148" y2="782" stroke="#141414" stroke-width="1.2" stroke-linecap="butt"/>
<line x1="168.1" y1="778.5" x2="168.1" y2="782" stroke="#141414" stroke-width="1.2" stroke-linecap="butt"/>
<line x1="188.2" y1="778.5" x2="188.2" y2="782" stroke="#141414" stroke-width="1.2" stroke-linecap="butt"/>
<line x1="208.3" y1="778.5" x2="208.3" y2="782" stroke="#141414" stroke-width="1.2" stroke-linecap="butt"/>
<line x1="228.4" y1="778.5" x2="228.4" y2="782" stroke="#141414" stroke-width="1.2" stroke-linecap="butt"/>
<line x1="248.5" y1="778.5" x2="248.5" y2="782" stroke="#141414" stroke-width="1.2" stroke-linecap="butt"/>
<text transform="translate(57.55,793.8) scale(0.93,1)" x="0" y="0" font-size="9.8" text-anchor="middle" fill="#1c1c1c" stroke="#1c1c1c" stroke-width="0.3">0</text>
<text transform="translate(77.65,793.8) scale(0.93,1)" x="0" y="0" font-size="9.8" text-anchor="middle" fill="#1c1c1c" stroke="#1c1c1c" stroke-width="0.3">0.5</text>
<text transform="translate(97.75,793.8) scale(0.93,1)" x="0" y="0" font-size="9.8" text-anchor="middle" fill="#1c1c1c" stroke="#1c1c1c" stroke-width="0.3">3.5</text>
<text transform="translate(117.85,793.8) scale(0.93,1)" x="0" y="0" font-size="9.8" text-anchor="middle" fill="#1c1c1c" stroke="#1c1c1c" stroke-width="0.3">4</text>
<text transform="translate(137.95,793.8) scale(0.93,1)" x="0" y="0" font-size="9.8" text-anchor="middle" fill="#1c1c1c" stroke="#1c1c1c" stroke-width="0.3">4.5</text>
<text transform="translate(158.05,793.8) scale(0.93,1)" x="0" y="0" font-size="9.8" text-anchor="middle" fill="#1c1c1c" stroke="#1c1c1c" stroke-width="0.3">5</text>
<text transform="translate(178.15,793.8) scale(0.93,1)" x="0" y="0" font-size="9.8" text-anchor="middle" fill="#1c1c1c" stroke="#1c1c1c" stroke-width="0.3">5.5</text>
<text transform="translate(198.25,793.8) scale(0.93,1)" x="0" y="0" font-size="9.8" text-anchor="middle" fill="#1c1c1c" stroke="#1c1c1c" stroke-width="0.3">6</text>
<text transform="translate(218.35,793.8) scale(0.93,1)" x="0" y="0" font-size="9.8" text-anchor="middle" fill="#1c1c1c" stroke="#1c1c1c" stroke-width="0.3">6.5</text>
<text transform="translate(238.45,793.8) scale(0.93,1)" x="0" y="0" font-size="9.8" text-anchor="middle" fill="#1c1c1c" stroke="#1c1c1c" stroke-width="0.3">7</text>
<text x="127.2" y="810" font-size="11.4" textLength="45.6" lengthAdjust="spacingAndGlyphs" fill="#1c1c1c" stroke="#1c1c1c" stroke-width="0.3">[NaCl] g/L</text>
<text transform="translate(18,687.75) rotate(-90)" x="0" y="0" font-size="11.4" text-anchor="middle" textLength="43.1" lengthAdjust="spacingAndGlyphs" fill="#1c1c1c" stroke="#1c1c1c" stroke-width="0.3">Lysis (%)</text>
<line x1="140.5" y1="617.5" x2="162.7" y2="617.5" stroke="#141414" stroke-width="1.8" stroke-linecap="butt"/>
<line x1="140.5" y1="629.6" x2="161.2" y2="629.6" stroke="#141414" stroke-width="1.8" stroke-linecap="butt" stroke-dasharray="8.8 3.1"/>
<line x1="140.5" y1="640.9" x2="162.7" y2="640.9" stroke="#141414" stroke-width="1.8" stroke-linecap="butt" stroke-dasharray="5.6 3 1.2 3 1.2 3"/>
<text x="166.1" y="621" font-size="9" textLength="13.6" lengthAdjust="spacingAndGlyphs" fill="#1c1c1c" stroke="#1c1c1c" stroke-width="0.3">WT</text>
<text x="166.4" y="631.4" font-size="9" font-style="italic" textLength="28.6" lengthAdjust="spacingAndGlyphs" fill="#1c1c1c" stroke="#1c1c1c" stroke-width="0.3">Ampd3</text>
<text x="195.2" y="627.5" font-size="5.8" font-style="italic" textLength="18.4" lengthAdjust="spacingAndGlyphs" fill="#1c1c1c" stroke="#1c1c1c" stroke-width="0.3">T689A</text>
<text x="213.6" y="631.8" font-size="7.5" textLength="7.5" lengthAdjust="spacingAndGlyphs" fill="#1c1c1c" stroke="#1c1c1c" stroke-width="0.3">/+</text>
<text x="166.4" y="642.6" font-size="9" font-style="italic" textLength="28.6" lengthAdjust="spacingAndGlyphs" fill="#1c1c1c" stroke="#1c1c1c" stroke-width="0.3">Ampd3</text>
<text x="195.2" y="638.7" font-size="5.8" font-style="italic" textLength="18.4" lengthAdjust="spacingAndGlyphs" fill="#1c1c1c" stroke="#1c1c1c" stroke-width="0.3">T689A</text>
<polyline points="57.55,650 77.65,644.89 97.75,663.43 117.85,760.6 137.95,778.5" fill="none" stroke="#141414" stroke-width="1.9" stroke-linejoin="miter"/>
<line x1="57.5" y1="655.5" x2="57.5" y2="646.5" stroke="#141414" stroke-width="1.15" stroke-linecap="butt"/>
<line x1="55.2" y1="655.5" x2="59.8" y2="655.5" stroke="#141414" stroke-width="1.15" stroke-linecap="butt"/>
<line x1="55.2" y1="646.5" x2="59.8" y2="646.5" stroke="#141414" stroke-width="1.15" stroke-linecap="butt"/>
<line x1="77.5" y1="657.5" x2="77.5" y2="637.5" stroke="#141414" stroke-width="1.15" stroke-linecap="butt"/>
<line x1="75.2" y1="657.5" x2="79.8" y2="657.5" stroke="#141414" stroke-width="1.15" stroke-linecap="butt"/>
<line x1="75.2" y1="637.5" x2="79.8" y2="637.5" stroke="#141414" stroke-width="1.15" stroke-linecap="butt"/>
<line x1="97.5" y1="668.5" x2="97.5" y2="658.5" stroke="#141414" stroke-width="1.15" stroke-linecap="butt"/>
<line x1="95.2" y1="668.5" x2="99.8" y2="668.5" stroke="#141414" stroke-width="1.15" stroke-linecap="butt"/>
<line x1="95.2" y1="658.5" x2="99.8" y2="658.5" stroke="#141414" stroke-width="1.15" stroke-linecap="butt"/>
<line x1="117.5" y1="761.5" x2="117.5" y2="759.5" stroke="#141414" stroke-width="1.15" stroke-linecap="butt"/>
<line x1="115.2" y1="761.5" x2="119.8" y2="761.5" stroke="#141414" stroke-width="1.15" stroke-linecap="butt"/>
<line x1="115.2" y1="759.5" x2="119.8" y2="759.5" stroke="#141414" stroke-width="1.15" stroke-linecap="butt"/>
<polyline points="57.55,648.72 77.65,637.85 97.75,657.03 117.85,746.53 137.95,766.99 158.05,774.28 178.15,777.73 186.19,778.5" fill="none" stroke="#141414" stroke-width="1.9" stroke-linejoin="miter" stroke-dasharray="8.8 3.1"/>
<line x1="57.5" y1="654.5" x2="57.5" y2="644.5" stroke="#141414" stroke-width="1.15" stroke-linecap="butt"/>
<line x1="55.2" y1="654.5" x2="59.8" y2="654.5" stroke="#141414" stroke-width="1.15" stroke-linecap="butt"/>
<line x1="55.2" y1="644.5" x2="59.8" y2="644.5" stroke="#141414" stroke-width="1.15" stroke-linecap="butt"/>
<line x1="77.5" y1="642.5" x2="77.5" y2="631.5" stroke="#141414" stroke-width="1.15" stroke-linecap="butt"/>
<line x1="75.2" y1="642.5" x2="79.8" y2="642.5" stroke="#141414" stroke-width="1.15" stroke-linecap="butt"/>
<line x1="75.2" y1="631.5" x2="79.8" y2="631.5" stroke="#141414" stroke-width="1.15" stroke-linecap="butt"/>
<line x1="97.5" y1="669.5" x2="97.5" y2="645.5" stroke="#141414" stroke-width="1.15" stroke-linecap="butt"/>
<line x1="95.2" y1="669.5" x2="99.8" y2="669.5" stroke="#141414" stroke-width="1.15" stroke-linecap="butt"/>
<line x1="95.2" y1="645.5" x2="99.8" y2="645.5" stroke="#141414" stroke-width="1.15" stroke-linecap="butt"/>
<line x1="117.5" y1="750.5" x2="117.5" y2="743.5" stroke="#141414" stroke-width="1.15" stroke-linecap="butt"/>
<line x1="115.2" y1="750.5" x2="119.8" y2="750.5" stroke="#141414" stroke-width="1.15" stroke-linecap="butt"/>
<line x1="115.2" y1="743.5" x2="119.8" y2="743.5" stroke="#141414" stroke-width="1.15" stroke-linecap="butt"/>
<line x1="137.5" y1="768.5" x2="137.5" y2="765.5" stroke="#141414" stroke-width="1.15" stroke-linecap="butt"/>
<line x1="135.2" y1="768.5" x2="139.8" y2="768.5" stroke="#141414" stroke-width="1.15" stroke-linecap="butt"/>
<line x1="135.2" y1="765.5" x2="139.8" y2="765.5" stroke="#141414" stroke-width="1.15" stroke-linecap="butt"/>
<line x1="158.5" y1="775.5" x2="158.5" y2="773.5" stroke="#141414" stroke-width="1.15" stroke-linecap="butt"/>
<line x1="156.2" y1="775.5" x2="160.8" y2="775.5" stroke="#141414" stroke-width="1.15" stroke-linecap="butt"/>
<line x1="156.2" y1="773.5" x2="160.8" y2="773.5" stroke="#141414" stroke-width="1.15" stroke-linecap="butt"/>
<polyline points="57.55,649.36 77.65,641.69 97.75,660.23 117.85,751.65 137.95,770.06 158.05,775.94 178.15,778.12 186.19,778.5" fill="none" stroke="#141414" stroke-width="1.9" stroke-linejoin="miter" stroke-dasharray="5.6 3 1.2 3 1.2 3"/>
<line x1="57.5" y1="658.5" x2="57.5" y2="644.5" stroke="#141414" stroke-width="1.15" stroke-linecap="butt"/>
<line x1="55.2" y1="658.5" x2="59.8" y2="658.5" stroke="#141414" stroke-width="1.15" stroke-linecap="butt"/>
<line x1="55.2" y1="644.5" x2="59.8" y2="644.5" stroke="#141414" stroke-width="1.15" stroke-linecap="butt"/>
<line x1="77.5" y1="649.5" x2="77.5" y2="634.5" stroke="#141414" stroke-width="1.15" stroke-linecap="butt"/>
<line x1="75.2" y1="649.5" x2="79.8" y2="649.5" stroke="#141414" stroke-width="1.15" stroke-linecap="butt"/>
<line x1="75.2" y1="634.5" x2="79.8" y2="634.5" stroke="#141414" stroke-width="1.15" stroke-linecap="butt"/>
<line x1="97.5" y1="665.5" x2="97.5" y2="654.5" stroke="#141414" stroke-width="1.15" stroke-linecap="butt"/>
<line x1="95.2" y1="665.5" x2="99.8" y2="665.5" stroke="#141414" stroke-width="1.15" stroke-linecap="butt"/>
<line x1="95.2" y1="654.5" x2="99.8" y2="654.5" stroke="#141414" stroke-width="1.15" stroke-linecap="butt"/>
<line x1="117.5" y1="754.5" x2="117.5" y2="749.5" stroke="#141414" stroke-width="1.15" stroke-linecap="butt"/>
<line x1="115.2" y1="754.5" x2="119.8" y2="754.5" stroke="#141414" stroke-width="1.15" stroke-linecap="butt"/>
<line x1="115.2" y1="749.5" x2="119.8" y2="749.5" stroke="#141414" stroke-width="1.15" stroke-linecap="butt"/>
<line x1="137.5" y1="771.5" x2="137.5" y2="768.5" stroke="#141414" stroke-width="1.15" stroke-linecap="butt"/>
<line x1="135.2" y1="771.5" x2="139.8" y2="771.5" stroke="#141414" stroke-width="1.15" stroke-linecap="butt"/>
<line x1="135.2" y1="768.5" x2="139.8" y2="768.5" stroke="#141414" stroke-width="1.15" stroke-linecap="butt"/>
<line x1="158.5" y1="776.5" x2="158.5" y2="774.5" stroke="#141414" stroke-width="1.15" stroke-linecap="butt"/>
<line x1="156.2" y1="776.5" x2="160.8" y2="776.5" stroke="#141414" stroke-width="1.15" stroke-linecap="butt"/>
<line x1="156.2" y1="774.5" x2="160.8" y2="774.5" stroke="#141414" stroke-width="1.15" stroke-linecap="butt"/>
<line x1="116" y1="600" x2="116" y2="600" stroke="#141414" stroke-width="1" stroke-linecap="butt"/>
<text x="127" y="809" font-size="10.5" fill="#1c1c1c" stroke="#1c1c1c" stroke-width="0.3"></text>
<text transform="translate(273.5,566.3) scale(0.9,1)" x="0" y="0" font-size="15" font-weight="bold" fill="#1c1c1c" stroke="#1c1c1c" stroke-width="0.3">F</text>
<line x1="312.8" y1="574.5" x2="312.8" y2="779.45" stroke="#141414" stroke-width="1.4" stroke-linecap="butt"/>
<line x1="309" y1="778.75" x2="312.8" y2="778.75" stroke="#141414" stroke-width="1.2" stroke-linecap="butt"/>
<text transform="translate(305.2,782.15) scale(0.93,1)" x="0" y="0" font-size="9.8" text-anchor="end" fill="#1c1c1c" stroke="#1c1c1c" stroke-width="0.3">0</text>
<line x1="309" y1="753.65" x2="312.8" y2="753.65" stroke="#141414" stroke-width="1.2" stroke-linecap="butt"/>
<text transform="translate(305.2,757.05) scale(0.93,1)" x="0" y="0" font-size="9.8" text-anchor="end" fill="#1c1c1c" stroke="#1c1c1c" stroke-width="0.3">10</text>
<line x1="309" y1="728.55" x2="312.8" y2="728.55" stroke="#141414" stroke-width="1.2" stroke-linecap="butt"/>
<text transform="translate(305.2,731.95) scale(0.93,1)" x="0" y="0" font-size="9.8" text-anchor="end" fill="#1c1c1c" stroke="#1c1c1c" stroke-width="0.3">20</text>
<line x1="309" y1="703.45" x2="312.8" y2="703.45" stroke="#141414" stroke-width="1.2" stroke-linecap="butt"/>
<text transform="translate(305.2,706.85) scale(0.93,1)" x="0" y="0" font-size="9.8" text-anchor="end" fill="#1c1c1c" stroke="#1c1c1c" stroke-width="0.3">30</text>
<line x1="309" y1="678.35" x2="312.8" y2="678.35" stroke="#141414" stroke-width="1.2" stroke-linecap="butt"/>
<text transform="translate(305.2,681.75) scale(0.93,1)" x="0" y="0" font-size="9.8" text-anchor="end" fill="#1c1c1c" stroke="#1c1c1c" stroke-width="0.3">40</text>
<line x1="309" y1="653.25" x2="312.8" y2="653.25" stroke="#141414" stroke-width="1.2" stroke-linecap="butt"/>
<text transform="translate(305.2,656.65) scale(0.93,1)" x="0" y="0" font-size="9.8" text-anchor="end" fill="#1c1c1c" stroke="#1c1c1c" stroke-width="0.3">50</text>
<line x1="309" y1="628.15" x2="312.8" y2="628.15" stroke="#141414" stroke-width="1.2" stroke-linecap="butt"/>
<text transform="translate(305.2,631.55) scale(0.93,1)" x="0" y="0" font-size="9.8" text-anchor="end" fill="#1c1c1c" stroke="#1c1c1c" stroke-width="0.3">60</text>
<line x1="309" y1="603.05" x2="312.8" y2="603.05" stroke="#141414" stroke-width="1.2" stroke-linecap="butt"/>
<text transform="translate(305.2,606.45) scale(0.93,1)" x="0" y="0" font-size="9.8" text-anchor="end" fill="#1c1c1c" stroke="#1c1c1c" stroke-width="0.3">70</text>
<line x1="309" y1="577.95" x2="312.8" y2="577.95" stroke="#141414" stroke-width="1.2" stroke-linecap="butt"/>
<text transform="translate(305.2,581.35) scale(0.93,1)" x="0" y="0" font-size="9.8" text-anchor="end" fill="#1c1c1c" stroke="#1c1c1c" stroke-width="0.3">80</text>
<line x1="312.1" y1="778.75" x2="514.5" y2="778.75" stroke="#141414" stroke-width="1.4" stroke-linecap="butt"/>
<line x1="312.8" y1="778.75" x2="312.8" y2="782.25" stroke="#141414" stroke-width="1.2" stroke-linecap="butt"/>
<line x1="378.75" y1="778.75" x2="378.75" y2="782.25" stroke="#141414" stroke-width="1.2" stroke-linecap="butt"/>
<line x1="445" y1="778.75" x2="445" y2="782.25" stroke="#141414" stroke-width="1.2" stroke-linecap="butt"/>
<line x1="510.75" y1="778.75" x2="510.75" y2="782.25" stroke="#141414" stroke-width="1.2" stroke-linecap="butt"/>
<text transform="translate(288.6,676.8) rotate(-90)" x="0" y="0" font-size="11.4" text-anchor="middle" textLength="43.2" lengthAdjust="spacingAndGlyphs" fill="#1c1c1c" stroke="#1c1c1c" stroke-width="0.3">Lysis (%)</text>
<text x="345.9" y="797.6" font-size="10.2" text-anchor="middle" textLength="14.6" lengthAdjust="spacingAndGlyphs" fill="#1c1c1c" stroke="#1c1c1c" stroke-width="0.3">WT</text>
<text x="383.4" y="797.6" font-size="9.8" font-style="italic" textLength="31.5" lengthAdjust="spacingAndGlyphs" fill="#1c1c1c" stroke="#1c1c1c" stroke-width="0.3">Ampd3</text>
<text x="415.1" y="793.1" font-size="6.3" font-style="italic" textLength="16.3" lengthAdjust="spacingAndGlyphs" fill="#1c1c1c" stroke="#1c1c1c" stroke-width="0.3">T689A</text>
<text x="431.4" y="797.6" font-size="9.8" textLength="8.1" lengthAdjust="spacingAndGlyphs" fill="#1c1c1c" stroke="#1c1c1c" stroke-width="0.3">/+</text>
<text x="453.75" y="797.6" font-size="9.8" font-style="italic" textLength="31.2" lengthAdjust="spacingAndGlyphs" fill="#1c1c1c" stroke="#1c1c1c" stroke-width="0.3">Ampd3</text>
<text x="485.15" y="793.1" font-size="6.3" font-style="italic" textLength="17" lengthAdjust="spacingAndGlyphs" fill="#1c1c1c" stroke="#1c1c1c" stroke-width="0.3">T689A</text>
<line x1="345.75" y1="568.6" x2="345.75" y2="637.5" stroke="#141414" stroke-width="1.4" stroke-linecap="butt"/>
<line x1="345.75" y1="568.6" x2="470.75" y2="568.6" stroke="#141414" stroke-width="1.4" stroke-linecap="butt"/>
<line x1="345.75" y1="602.8" x2="411.25" y2="602.8" stroke="#141414" stroke-width="1.4" stroke-linecap="butt"/>
<line x1="411.25" y1="602.8" x2="411.25" y2="622" stroke="#141414" stroke-width="1.4" stroke-linecap="butt"/>
<circle cx="403.25" cy="562.1" r="1.3" fill="#1c1c1c"/>
<circle cx="407.9" cy="562.1" r="1.3" fill="#1c1c1c"/>
<circle cx="412.55" cy="562.1" r="1.3" fill="#1c1c1c"/>
<circle cx="378.3" cy="597.1" r="1.3" fill="#1c1c1c"/>
<circle cx="345.6" cy="649.9" r="2.3" fill="#fff" stroke="#141414" stroke-width="1.45"/>
<line x1="336.5" y1="726.9" x2="355.5" y2="726.9" stroke="#141414" stroke-width="1.6" stroke-linecap="butt"/>
<circle cx="343" cy="724.5" r="2.3" fill="#fff" stroke="#141414" stroke-width="1.45"/>
<circle cx="348.9" cy="723.5" r="2.3" fill="#fff" stroke="#141414" stroke-width="1.45"/>
<circle cx="346.1" cy="728" r="2.3" fill="#fff" stroke="#141414" stroke-width="1.45"/>
<circle cx="343.25" cy="731.5" r="2.3" fill="#fff" stroke="#141414" stroke-width="1.45"/>
<circle cx="349.25" cy="731" r="2.3" fill="#fff" stroke="#141414" stroke-width="1.45"/>
<line x1="403.25" y1="670.5" x2="421.75" y2="670.5" stroke="#141414" stroke-width="1.6" stroke-linecap="butt"/>
<circle cx="412.4" cy="655.5" r="2.3" fill="#fff" stroke="#141414" stroke-width="1.45"/>
<circle cx="412.4" cy="661.5" r="2.3" fill="#fff" stroke="#141414" stroke-width="1.45"/>
<circle cx="412.4" cy="667.6" r="2.3" fill="#fff" stroke="#141414" stroke-width="1.45"/>
<circle cx="412.4" cy="682" r="2.3" fill="#fff" stroke="#141414" stroke-width="1.45"/>
<circle cx="412.4" cy="677.5" r="2.3" fill="#fff" stroke="#141414" stroke-width="1.45"/>
<circle cx="412.4" cy="674" r="2.3" fill="#fff" stroke="#141414" stroke-width="1.45"/>
<line x1="469.3" y1="605.2" x2="487.8" y2="605.2" stroke="#141414" stroke-width="1.6" stroke-linecap="butt"/>
<circle cx="478.6" cy="590.2" r="2.3" fill="#fff" stroke="#141414" stroke-width="1.45"/>
<circle cx="478.6" cy="594.3" r="2.3" fill="#fff" stroke="#141414" stroke-width="1.45"/>
<circle cx="478.6" cy="600.3" r="2.3" fill="#fff" stroke="#141414" stroke-width="1.45"/>
<circle cx="478.6" cy="611.2" r="2.3" fill="#fff" stroke="#141414" stroke-width="1.45"/>
<circle cx="478.6" cy="615.8" r="2.3" fill="#fff" stroke="#141414" stroke-width="1.45"/>
<circle cx="478.6" cy="638.3" r="2.3" fill="#fff" stroke="#141414" stroke-width="1.45"/>
</svg>
</body></html>
